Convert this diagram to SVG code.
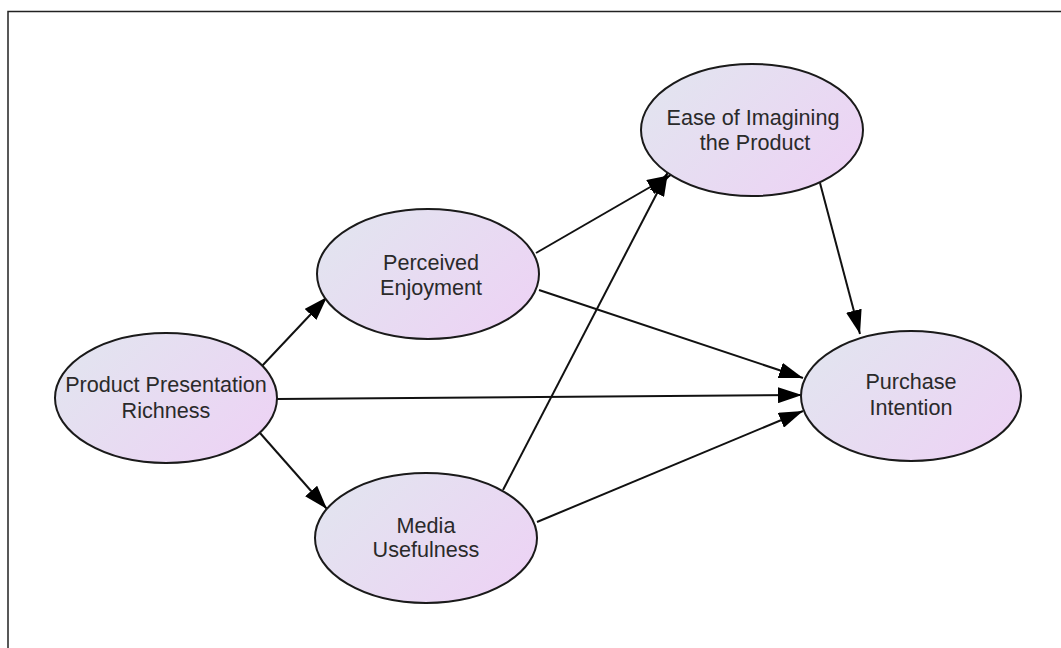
<svg xmlns="http://www.w3.org/2000/svg" width="1061" height="648" viewBox="0 0 1061 648">
<defs>
<linearGradient id="g" x1="0" y1="0" x2="1" y2="0.6">
<stop offset="0" stop-color="#e1e6ef"/>
<stop offset="1" stop-color="#ecd4f4"/>
</linearGradient>
<marker id="ah" viewBox="0 0 24 16" refX="24" refY="8" markerWidth="24" markerHeight="16" markerUnits="userSpaceOnUse" orient="auto">
<path d="M0,0 L24,8 L0,16 z" fill="#000"/>
</marker>
<style>
.n ellipse{fill:url(#g);stroke:#1a1a1a;stroke-width:2}
.n text{font-family:"Liberation Sans",Arial,sans-serif;font-size:21.6px;fill:#2a2a2a;text-anchor:middle}
#edges line{stroke:#111;stroke-width:2;marker-end:url(#ah)}
</style>
</defs>
<rect width="1061" height="648" fill="#fff"/>
<path d="M8,648 V11.5 H1061" fill="none" stroke="#222" stroke-width="1.5"/>
<g id="edges">
<line x1="262" y1="366" x2="327" y2="297"/>
<line x1="260" y1="433" x2="327" y2="509"/>
<line x1="277" y1="399" x2="802" y2="395"/>
<line x1="536" y1="253" x2="671" y2="175"/>
<line x1="539" y1="290" x2="803" y2="378"/>
<line x1="503" y1="490" x2="668" y2="172"/>
<line x1="537" y1="522" x2="803" y2="411"/>
<line x1="820" y1="183" x2="860" y2="334"/>
</g>
<g id="ppr" class="n"><ellipse cx="166" cy="398" rx="111" ry="65"/><text x="166" y="392">Product Presentation</text><text x="166" y="418">Richness</text></g>
<g id="pe" class="n"><ellipse cx="428" cy="274" rx="111" ry="65"/><text x="431" y="270">Perceived</text><text x="431" y="295">Enjoyment</text></g>
<g id="mu" class="n"><ellipse cx="426" cy="538" rx="111" ry="65"/><text x="426" y="533">Media</text><text x="426" y="557">Usefulness</text></g>
<g id="ei" class="n"><ellipse cx="752" cy="130" rx="111" ry="66"/><text x="753" y="125">Ease of Imagining</text><text x="755" y="150">the Product</text></g>
<g id="pi" class="n"><ellipse cx="911" cy="396" rx="110" ry="65"/><text x="911" y="389">Purchase</text><text x="911" y="415">Intention</text></g>
</svg>
